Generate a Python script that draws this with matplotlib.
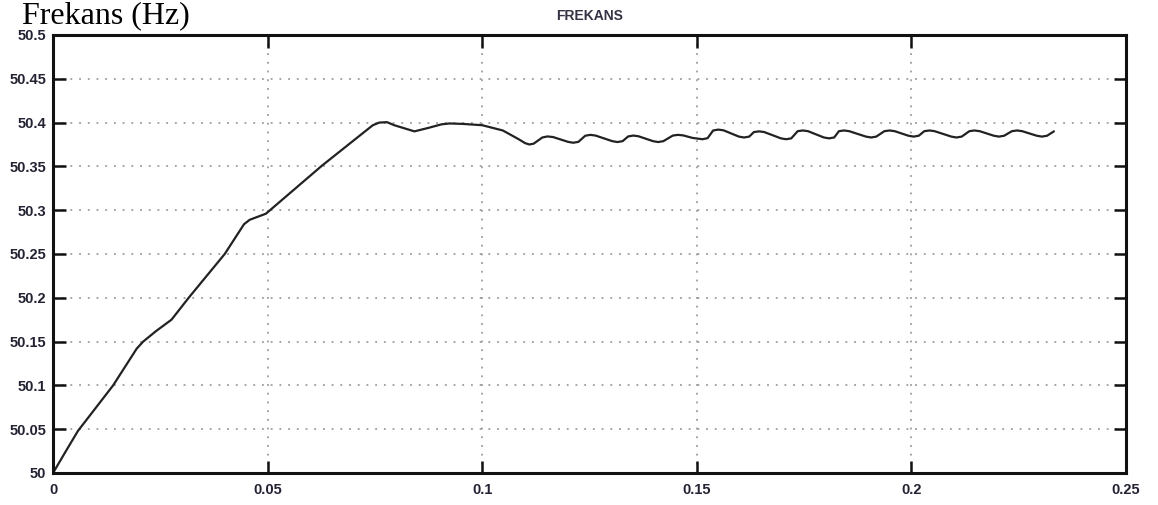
import matplotlib
matplotlib.use("Agg")
import matplotlib.pyplot as plt

# Frequency response of the generator (time in s, frequency in Hz)
time_s = [
    0.0000, 0.0030, 0.0058, 0.0140, 0.0195, 0.0210, 0.0240, 0.0276, 0.0316,
    0.0400, 0.0445, 0.0458, 0.0496, 0.0627, 0.0745, 0.0760, 0.0778, 0.0795,
    0.0842, 0.0875, 0.0905, 0.0924, 0.0955, 0.1000, 0.1048, 0.1085, 0.1100,
    0.1110, 0.1120, 0.1140, 0.1152, 0.1165, 0.1200, 0.1212, 0.1224, 0.1240,
    0.1252, 0.1264, 0.1303, 0.1315, 0.1327, 0.1340, 0.1352, 0.1364, 0.1398,
    0.1410, 0.1422, 0.1444, 0.1456, 0.1468, 0.1490, 0.1513, 0.1525, 0.1538,
    0.1550, 0.1562, 0.1598, 0.1610, 0.1622, 0.1633, 0.1645, 0.1657, 0.1696,
    0.1708, 0.1720, 0.1735, 0.1747, 0.1759, 0.1796, 0.1808, 0.1820, 0.1831,
    0.1843, 0.1855, 0.1894, 0.1906, 0.1918, 0.1937, 0.1949, 0.1961, 0.1993,
    0.2005, 0.2017, 0.2030, 0.2042, 0.2054, 0.2093, 0.2105, 0.2117, 0.2135,
    0.2147, 0.2159, 0.2192, 0.2204, 0.2216, 0.2234, 0.2246, 0.2258, 0.2292,
    0.2304, 0.2316, 0.2332,
]
freq_hz = [
    50.000, 50.025, 50.048, 50.100, 50.142, 50.150, 50.162, 50.175, 50.200,
    50.250, 50.284, 50.289, 50.296, 50.351, 50.397, 50.400, 50.4005, 50.397,
    50.390, 50.394, 50.398, 50.399, 50.3985, 50.397, 50.391, 50.381, 50.3765,
    50.375, 50.376, 50.383, 50.3842, 50.3835, 50.378, 50.377, 50.378, 50.385,
    50.386, 50.3852, 50.3788, 50.3778, 50.3788, 50.3842, 50.3852, 50.3844, 50.3788,
    50.3778, 50.3788, 50.3852, 50.386, 50.3854, 50.3825, 50.381, 50.3822, 50.391,
    50.392, 50.3912, 50.384, 50.383, 50.384, 50.3892, 50.390, 50.3892, 50.382,
    50.381, 50.382, 50.3902, 50.391, 50.3902, 50.383, 50.382, 50.383, 50.3902,
    50.391, 50.3902, 50.384, 50.383, 50.384, 50.3902, 50.391, 50.3902, 50.385,
    50.384, 50.385, 50.3902, 50.391, 50.3902, 50.384, 50.383, 50.384, 50.3902,
    50.391, 50.3902, 50.385, 50.384, 50.385, 50.3902, 50.391, 50.3902, 50.385,
    50.384, 50.385, 50.390,
]

x_ticks = [0, 0.05, 0.1, 0.15, 0.2, 0.25]
x_tick_labels = ["0", "0.05", "0.1", "0.15", "0.2", "0.25"]
y_ticks = [50, 50.05, 50.1, 50.15, 50.2, 50.25, 50.3, 50.35, 50.4, 50.45, 50.5]
y_tick_labels = ["50", "50.05", "50.1", "50.15", "50.2", "50.25", "50.3",
                 "50.35", "50.4", "50.45", "50.5"]

tick_family = "Liberation Sans"

fig = plt.figure(figsize=(11.58, 5.05), dpi=100)
ax = fig.add_axes([0.0458, 0.0634, 0.9266, 0.8673])

ax.plot(time_s, freq_hz, color="#222222", linewidth=1.6,
        solid_joinstyle="round", solid_capstyle="round")

ax.set_xlim(0, 0.25)
ax.set_ylim(50, 50.5)
ax.set_xticks(x_ticks)
ax.set_xticklabels(x_tick_labels)
ax.set_yticks(y_ticks)
ax.set_yticklabels(y_tick_labels)

ax.grid(True, color="#8c8c8c", linestyle=(0, (1.2, 4.5)), linewidth=1.1)
ax.tick_params(direction="in", length=9, width=1.8, top=True, right=True,
               colors="#111111")
ax.tick_params(axis="x", pad=7)
ax.tick_params(axis="y", pad=5)
for lbl in ax.get_xticklabels() + ax.get_yticklabels():
    lbl.set_fontfamily(tick_family)
    lbl.set_fontweight("bold")
    lbl.set_fontsize(10.5)
    lbl.set_color("#222233")

for sp in ax.spines.values():
    sp.set_linewidth(2.2)
    sp.set_color("#111111")

ax.set_title("FREKANS", fontsize=10, fontweight="bold", family=tick_family,
             color="#333344", pad=11)

fig.text(0.019, 0.955, "Frekans (Hz)", family="Liberation Serif", fontsize=23,
         ha="left", va="baseline")

fig.savefig("out.png", dpi=100)
